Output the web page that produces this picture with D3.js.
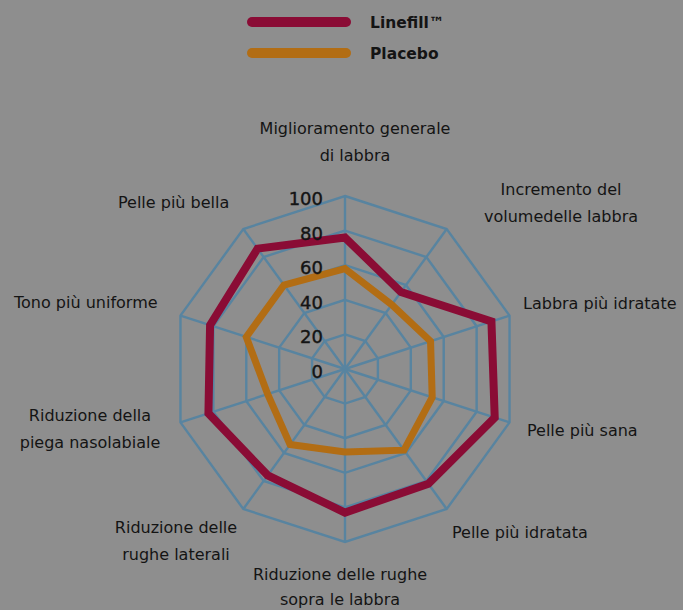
<!DOCTYPE html>
<html>
<head>
<meta charset="utf-8">
<script src="https://cdn.jsdelivr.net/npm/d3@7"></script>
<style>
html,body{margin:0;padding:0;background:#8e8e8e;}
svg{display:block;}
text{font-family:"DejaVu Sans",sans-serif;fill:#141414;}
</style>
</head>
<body>
<svg id="chart" width="683" height="610"></svg>
<script>
const categories = [
  ["Miglioramento generale","di labbra"],
  ["Incremento del","volumedelle labbra"],
  ["Labbra più idratate"],
  ["Pelle più sana"],
  ["Pelle più idratata"],
  ["Riduzione delle rughe","sopra le labbra"],
  ["Riduzione delle","rughe laterali"],
  ["Riduzione della","piega nasolabiale"],
  ["Tono più uniforme"],
  ["Pelle più bella"]
];
const linefill = [76, 55, 89, 91, 82, 83, 76, 83, 82, 86];
const placebo  = [58, 46, 52, 53, 58, 48, 54, 47, 60, 60];
const ticks = [0, 20, 40, 60, 80, 100];
const seriesNames = ["Linefill™", "Placebo"];

const colors = ["#8a0c35", "#b26d14"];
const gridColor = "#5884a0";
const cx = 345, cy = 369, R = 173;
const svg = d3.select("#chart");
const n = categories.length;
const r = d3.scaleLinear().domain([0, 100]).range([0, R]);
const ang = d3.scaleLinear().domain([0, n]).range([0, 2 * Math.PI]);
const g = svg.append("g").attr("transform", `translate(${cx},${cy})`);

const ringLine = d3.lineRadial().angle((d, i) => ang(i)).radius(d => r(d)).curve(d3.curveLinearClosed);
ticks.filter(t => t > 0).forEach(t => {
  g.append("path").attr("d", ringLine(d3.range(n).map(() => t)))
    .attr("fill", "none").attr("stroke", gridColor).attr("stroke-width", 2.4);
});
d3.range(n).forEach(i => {
  const a = ang(i);
  g.append("line").attr("x1", 0).attr("y1", 0)
    .attr("x2", r(100) * Math.sin(a)).attr("y2", -r(100) * Math.cos(a))
    .attr("stroke", gridColor).attr("stroke-width", 2.4);
});

[linefill, placebo].forEach((s, k) => {
  g.append("path").attr("d", ringLine(s))
    .attr("fill", "none").attr("stroke", colors[k])
    .attr("stroke-width", k === 0 ? 8 : 7).attr("stroke-linejoin", "miter");
});

ticks.forEach(t => {
  svg.append("text").attr("x", cx - 22).attr("y", cy - r(t) + 9)
    .attr("text-anchor", "end").attr("font-size", 18)
    .attr("stroke", "#141414").attr("stroke-width", 0.4)
    .text(t);
});

// category label layout: [x, y, anchor, line gap]
const labelLayout = [
  [355, 134, "middle", 27],
  [561, 195, "middle", 27],
  [523, 309, "start", 27],
  [527, 436, "start", 27],
  [452, 538, "start", 27],
  [340, 580, "middle", 25],
  [176, 533, "middle", 27],
  [90, 421, "middle", 27],
  [14, 308, "start", 27],
  [118, 208, "start", 27]
];
categories.forEach((lines, i) => {
  const [x, y, anchor, gap] = labelLayout[i];
  const t = svg.append("text").attr("x", x).attr("y", y)
    .attr("text-anchor", anchor).attr("font-size", 16);
  lines.forEach((l, j) => t.append("tspan").attr("x", x).attr("dy", j === 0 ? 0 : gap).text(l));
});

seriesNames.forEach((name, k) => {
  const y = 22 + k * 31;
  svg.append("line").attr("x1", 252).attr("x2", 346).attr("y1", y).attr("y2", y)
    .attr("stroke", colors[k]).attr("stroke-width", 10).attr("stroke-linecap", "round");
  svg.append("text").attr("x", 370).attr("y", y + 6).attr("font-size", 15.5)
    .attr("font-weight", "bold").text(name);
});
</script>
</body>
</html>
